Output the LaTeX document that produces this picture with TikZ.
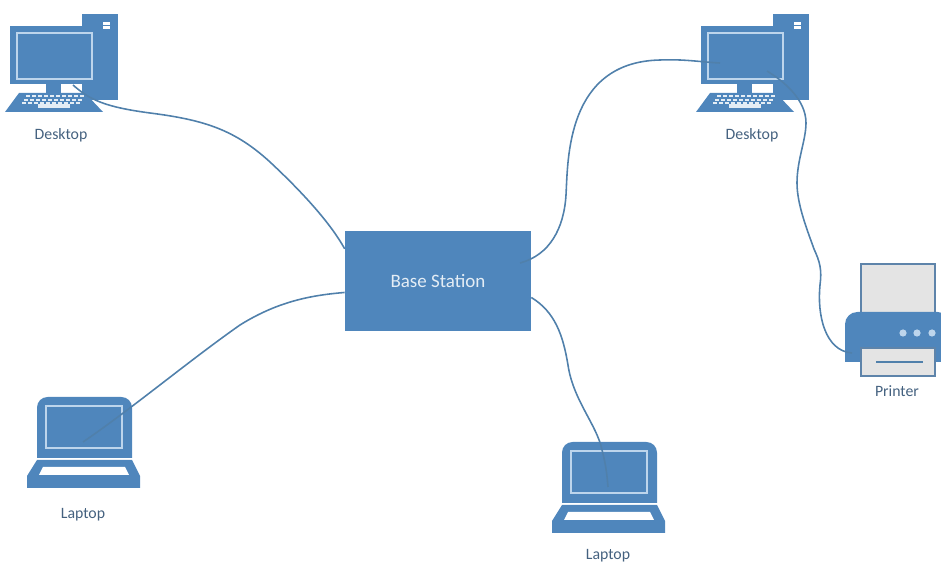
\documentclass[tikz,border=0pt]{standalone}
\usepackage{fontspec}
\setmainfont{Carlito}
\usepackage{xcolor}
\definecolor{iconblue}{HTML}{4F86BC}
\definecolor{framelight}{HTML}{BDD5EC}
\definecolor{cablecol}{HTML}{5080AB}
\definecolor{papergrey}{HTML}{E4E4E4}
\definecolor{labelcol}{HTML}{44617F}
\tikzset{
	cable/.style={draw=cablecol, line width=0.9pt},
	iconlabel/.style={text=labelcol, font=\fontsize{9}{11}\selectfont, inner sep=0pt},
	sheet/.style={fill=papergrey, draw=iconblue!70!gray, line width=0.7pt},
	pics/desktop/.style={code={
		\fill[iconblue] (82,14) rectangle (118,100);
		\fill[white] (103,22) rectangle (110,25);
		\fill[white] (103,26) rectangle (110,29);
		\fill[iconblue] (10,26) rectangle (98,84);
		\draw[framelight, line width=0.7pt] (17,33) rectangle (92,79);
		\fill[iconblue] (46,84) rectangle (61,93);
		\fill[iconblue] (19,93) -- (85,93) -- (103,112) -- (5,112) -- cycle;
		\foreach \rowy/\rowx in {95/26, 99/24, 102/22} {
			\foreach \keyn in {0,...,9} {
				\fill[white!85!iconblue] ({\rowx+\keyn*6},\rowy) rectangle ++(4,2.4);
			}
		}
		\fill[white!85!iconblue] (38,104.5) rectangle (70,108);
	}},
	pics/laptop/.style={code={
		\fill[iconblue] (37,458) [rounded corners=6pt] -- (37,397) -- (132,397) [sharp corners] -- (132,458) -- cycle;
		\draw[framelight, line width=0.6pt] (46,406) rectangle (122,448);
		\fill[iconblue] (37,460) -- (132,460) -- (140,476) -- (140,488) -- (27,488) -- (27,476) -- cycle;
		\fill[white] (43,467) -- (125,467) -- (129,475) -- (39,475) -- cycle;
	}},
}

\begin{document}
\begin{tikzpicture}[x=0.02cm, y=-0.02cm]
	\useasboundingbox (0,0) rectangle (941,564);

	% the two desktops
	\pic at (0,0) {desktop};
	\pic at (691,0) {desktop};
	\node[iconlabel] (desktopl) at (61,135) {Desktop};
	\node[iconlabel] (desktopr) at (752,135) {Desktop};

	% the two laptops
	\pic at (0,0) {laptop};
	\pic at (525,45) {laptop};
	\node[iconlabel] (laptopl) at (83,515) {Laptop};
	\node[iconlabel] (laptopr) at (608,556) {Laptop};

	% printer, runs off the right edge
	\draw[sheet] (861,264) rectangle (935,314);
	\fill[iconblue] (845,362) [rounded corners=7pt] -- (845,312) -- (950,312) [sharp corners] -- (950,362) -- cycle;
	\foreach \dotx in {903,917,932} {
		\fill[framelight] (\dotx,333) circle (3.6);
	}
	\draw[sheet] (861,348) rectangle (935,376);
	\draw[cablecol, line width=0.7pt] (876,362) -- (923,362);
	\node[iconlabel] (printer) at (897,391) {Printer};

	% base station
	\node[fill=iconblue, text=white!85!iconblue, minimum width=3.72cm, minimum height=2cm, inner sep=0pt,
		font=\fontsize{10.8}{12}\selectfont] (base) at (438,281) {Base Station};

	% where the cables end
	\coordinate (deskltip) at (73,85);
	\coordinate (deskrtip) at (720,63);
	\coordinate (deskrout) at (767,71);
	\coordinate (lapltip) at (83,442);
	\coordinate (laprtip) at (608,487);
	\coordinate (baseinner) at (520,263);
	\coordinate (printertip) at (852,353);

	% cables
	\draw[cable] (deskltip) .. controls (90,100) and (105,107) .. (150,113)
		.. controls (205,120) and (235,130) .. (270,162)
		.. controls (300,190) and (330,222) .. (base.161);
	\draw[cable] (lapltip) .. controls (130,410) and (190,360) .. (240,325)
		.. controls (280,300) and (315,295) .. (base.187);
	\draw[cable] (baseinner) .. controls (550,255) and (564,228) .. (566,195)
		.. controls (568,160) and (566,62) .. (660,60)
		.. controls (685,59) and (700,62) .. (deskrtip);
	\draw[cable] (base.-10) .. controls (555,312) and (563,335) .. (568,365)
		.. controls (573,400) and (597,425) .. (602,450)
		.. controls (606,465) and (607,475) .. (laprtip);
	\draw[cable] (deskrout) .. controls (785,82) and (806,100) .. (806,123)
		.. controls (806,140) and (797,160) .. (797,183)
		.. controls (797,205) and (808,232) .. (814,249)
		.. controls (820,262) and (822,270) .. (820,285)
		.. controls (817,315) and (825,351) .. (printertip);
\end{tikzpicture}
\end{document}
